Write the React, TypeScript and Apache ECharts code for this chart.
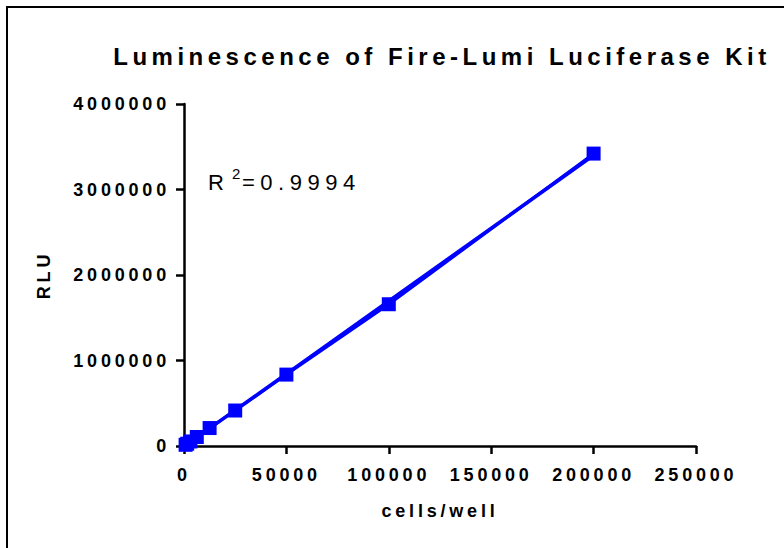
import React, { useEffect, useRef } from 'react';
import * as echarts from 'echarts';

const cellsPerWell = [781, 1563, 3125, 6250, 12500, 25000, 50000, 100000, 200000];
const rlu = [14000, 27000, 53000, 105000, 210000, 415000, 835000, 1658000, 3420000];
const xTicks = [0, 50000, 100000, 150000, 200000, 250000];
const yTicks = [0, 1000000, 2000000, 3000000, 4000000];
const titleText = 'Luminescence of Fire-Lumi Luciferase Kit';
const xName = 'cells/well';
const yName = 'RLU';
const r2Value = '=0.9994';

const FONT = '"Liberation Sans", Arial, Helvetica, sans-serif';
const BLUE = '#0000ff';

function fit(xs: number[], ys: number[]) {
  const n = xs.length;
  const mx = xs.reduce((a, b) => a + b, 0) / n;
  const my = ys.reduce((a, b) => a + b, 0) / n;
  let sxy = 0;
  let sxx = 0;
  for (let i = 0; i < n; i++) {
    sxy += (xs[i] - mx) * (ys[i] - my);
    sxx += (xs[i] - mx) * (xs[i] - mx);
  }
  const slope = sxy / sxx;
  return { slope, intercept: my - slope * mx };
}

export default function App() {
  const ref = useRef<HTMLDivElement>(null);
  useEffect(() => {
    if (!ref.current) return;
    const el = ref.current;
    const chart = echarts.init(el, undefined, { renderer: 'svg' });
    const { slope, intercept } = fit(cellsPerWell, rlu);
    const x0 = Math.min(...cellsPerWell);
    const x1 = Math.max(...cellsPerWell);
    const fitLine = [
      [x0, intercept + slope * x0],
      [x1, intercept + slope * x1],
    ];
    const data = cellsPerWell.map((x, i) => [x, rlu[i]]);

    chart.setOption({
      animation: false,
      textStyle: { fontFamily: FONT },
      grid: { left: 184, right: 88, top: 104, bottom: 102, containLabel: false },
      xAxis: {
        type: 'value',
        min: xTicks[0],
        max: xTicks[xTicks.length - 1],
        interval: xTicks[1] - xTicks[0],
        name: xName,
        nameLocation: 'middle',
        nameGap: 56,
        nameTextStyle: { fontFamily: FONT, fontSize: 18, fontWeight: 'bold', color: '#000' },
        axisLine: { show: true, onZero: false, lineStyle: { color: '#000', width: 2.5 } },
        axisTick: { show: true, length: 8, lineStyle: { color: '#000', width: 2.5 } },
        axisLabel: {
          margin: 20,
          fontFamily: FONT,
          fontSize: 18,
          fontWeight: 'bold',
          color: '#000',
          formatter: (v: number) => String(v),
        },
        splitLine: { show: false },
      },
      yAxis: {
        type: 'value',
        min: yTicks[0],
        max: yTicks[yTicks.length - 1],
        interval: yTicks[1] - yTicks[0],
        name: yName,
        nameLocation: 'middle',
        nameGap: 131,
        nameTextStyle: { fontFamily: FONT, fontSize: 18, fontWeight: 'bold', color: '#000' },
        axisLine: { show: true, onZero: false, lineStyle: { color: '#000', width: 2.5 } },
        axisTick: { show: true, length: 8, lineStyle: { color: '#000', width: 2.5 } },
        axisLabel: {
          margin: 14,
          fontFamily: FONT,
          fontSize: 18,
          fontWeight: 'bold',
          color: '#000',
          formatter: (v: number) => String(v),
        },
        splitLine: { show: false },
      },
      graphic: [
        {
          type: 'polyline',
          shape: { points: [[7, 548], [7, 7], [784, 7]] },
          style: { stroke: '#000', lineWidth: 2, fill: 'none' },
          silent: true,
        },
        {
          type: 'text',
          x: 442,
          y: 56,
          style: {
            text: titleText,
            fontFamily: FONT,
            fontSize: 24,
            fontWeight: 'bold',
            fill: '#000',
            align: 'center',
            verticalAlign: 'middle',
          },
        },
        {
          type: 'text',
          x: 208,
          y: 182,
          style: { text: 'R', fontFamily: FONT, fontSize: 22, fill: '#000', align: 'left', verticalAlign: 'middle' },
        },
        {
          type: 'text',
          x: 232,
          y: 173,
          style: { text: '2', fontFamily: FONT, fontSize: 15, fill: '#000', align: 'left', verticalAlign: 'middle' },
        },
        {
          type: 'text',
          x: 242,
          y: 182,
          style: { text: r2Value, fontFamily: FONT, fontSize: 22, fill: '#000', align: 'left', verticalAlign: 'middle' },
        },
      ],
      series: [
        {
          type: 'line',
          data: fitLine,
          symbol: 'none',
          lineStyle: { color: BLUE, width: 3.5 },
          z: 2,
        },
        {
          type: 'line',
          data,
          symbol: 'rect',
          symbolSize: 14,
          itemStyle: { color: BLUE },
          lineStyle: { color: BLUE, width: 3 },
          z: 3,
        },
      ],
    });

    const applySpacing = () => {
      el.querySelectorAll('text').forEach((t) => {
        const fs = parseFloat(getComputedStyle(t).fontSize || '0');
        let sp = 0;
        if (fs >= 24) sp = 4.5;
        else if (fs >= 22) sp = 5.5;
        else if (fs >= 18) sp = 3.8;
        (t as SVGTextElement).style.letterSpacing = sp + 'px';
      });
    };
    applySpacing();
    chart.on('finished', applySpacing);
    const raf = requestAnimationFrame(applySpacing);
    const to = setTimeout(applySpacing, 50);

    return () => {
      cancelAnimationFrame(raf);
      clearTimeout(to);
      chart.dispose();
    };
  }, []);

  return (
    <div
      ref={ref}
      style={{ position: 'absolute', left: 0, top: 0, width: 784, height: 548, background: '#fff' }}
    />
  );
}
